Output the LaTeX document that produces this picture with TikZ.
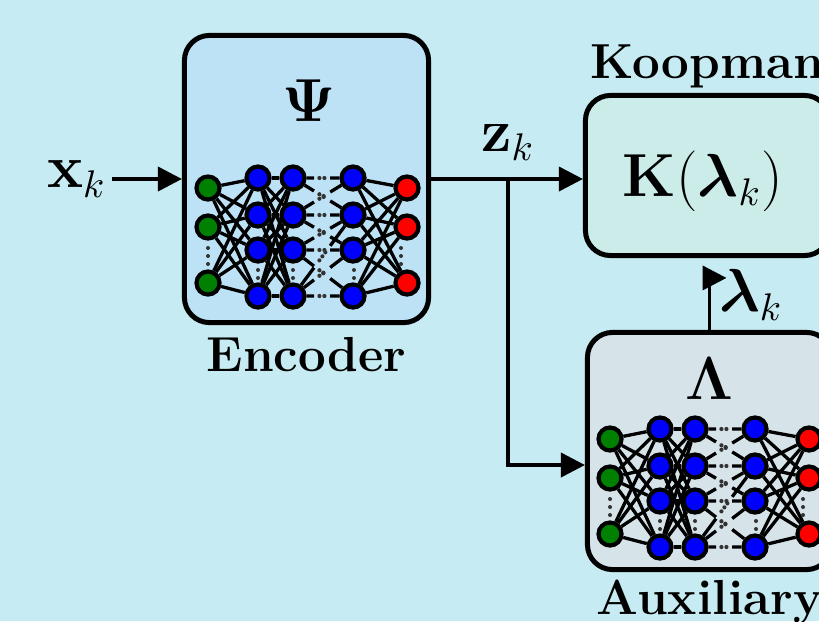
\documentclass[tikz,border=0pt]{standalone}
\usepackage{amsmath}
\usepackage{tikz}
\usetikzlibrary{arrows.meta, positioning, calc}

\definecolor{bgcol}{RGB}{199,235,242}
\definecolor{encfill}{RGB}{189,226,246}
\definecolor{koopfill}{RGB}{203,236,233}
\definecolor{auxfill}{RGB}{214,228,234}
\definecolor{ingreen}{RGB}{0,128,0}
\definecolor{hidblue}{RGB}{0,0,255}
\definecolor{outred}{RGB}{255,0,0}
\definecolor{dotgray}{RGB}{50,50,50}

\begin{document}
\begin{tikzpicture}[x=0.01cm, y=-0.01cm,
    block/.style={rectangle, draw, line width=0.05cm, rounded corners=0.25cm, minimum width=2.44cm},
    neuron/.style={circle, draw, line width=0.042cm, minimum size=0.23cm, inner sep=0pt},
    link/.style={line width=0.033cm},
    dotlink/.style={draw=dotgray, line width=0.042cm, line cap=round, dash pattern=on 0pt off 0.05cm},
    txt/.style={inner sep=0pt, font=\fontsize{14}{17}\selectfont\bfseries},
    mth/.style={inner sep=0.05cm, font=\fontsize{16}{19}\selectfont},
    arrow/.style={line width=0.038cm, -{Triangle[length=0.24cm, width=0.24cm]}}]
    \path [use as bounding box, fill=bgcol] (0,0) rectangle (819,621);

    % boxes
    \node [block, fill=encfill, minimum height=2.87cm] (enc) at (306.5,179) {};
    \node [block, fill=koopfill, minimum height=1.6cm] (koop) at (707.5,175.5) {};
    \node [block, fill=auxfill, minimum height=2.37cm] (aux) at (709.5,451) {};
    \node [txt, below=0.12cm of enc] (enclbl) {Encoder};
    \node [txt, above=0.04cm of koop] (kooplbl) {Koopman};
    \node [txt, below=0.07cm of aux] (auxlbl) {Auxiliary};
    \node [mth] (psi) at (309,101) {$\mathbf{\Psi}$};
    \node [mth] (lam) at (709,379) {$\mathbf{\Lambda}$};
    \node [mth] (kop) at (703,181) {$\mathbf{K}(\boldsymbol{\lambda}_k)$};

    % networks
    \foreach \nt/\ox/\oy in {e/0/0, a/402/251} {
        \begin{scope}[shift={(\ox,\oy)}]
        \foreach \i/\y in {1/188, 2/227, 3/283} {
            \node [neuron, fill=ingreen] (\nt g\i) at (208,\y) {};
            \node [neuron, fill=outred] (\nt r\i) at (407,\y) {};
        }
        \foreach \i/\y in {1/178, 2/215, 3/250, 4/296} {
            \node [neuron, fill=hidblue] (\nt a\i) at (258,\y) {};
            \node [neuron, fill=hidblue] (\nt b\i) at (293,\y) {};
            \node [neuron, fill=hidblue] (\nt c\i) at (353,\y) {};
        }
        \foreach \i in {1,2,3}
            \foreach \j in {1,...,4} {
                \draw [link] (\nt g\i) -- (\nt a\j);
                \draw [link] (\nt c\j) -- (\nt r\i);
            }
        \foreach \i in {1,...,4}
            \foreach \j in {1,...,4}
                \draw [link] (\nt a\i) -- (\nt b\j);
        \foreach \i/\j in {1/1, 1/2, 2/1, 2/2, 2/3, 3/2, 3/3, 3/4, 4/2, 4/3, 4/4} {
            \draw [link] (\nt b\i) -- ($(\nt b\i)!0.35!(\nt c\j)$);
            \draw [dotlink] ($(\nt b\i)!0.44!(\nt c\j)$) -- ($(\nt b\i)!0.55!(\nt c\j)$);
            \draw [link] ($(\nt b\i)!0.62!(\nt c\j)$) -- (\nt c\j);
        }
        \foreach \x in {208, 401}
            \foreach \y in {248, 256, 264}
                \fill [dotgray] (\x,\y) circle [radius=0.02cm];
        \foreach \x in {258, 293, 354}
            \foreach \y in {270, 278}
                \fill [dotgray] (\x,\y) circle [radius=0.02cm];
        \end{scope}
    }

    % signals
    \node [mth, left=0.7cm of enc] (xk) {$\mathbf{x}_k$};
    \coordinate (zs) at (508,179);
    \node [mth, above=0.13cm of zs] (zk) {$\mathbf{z}_k$};
    \node [mth] (lk) at (751,295) {$\boldsymbol{\lambda}_k$};
    \draw [arrow] (xk) -- (enc);
    \draw [arrow] (enc.east) -- (enc.east -| koop.west);
    \draw [arrow] (zs) |- ([yshift=-0.14cm]aux.west);
    \draw [arrow] (aux.north) -- ++(0,-52) -- ++(17,0);
\end{tikzpicture}
\end{document}
